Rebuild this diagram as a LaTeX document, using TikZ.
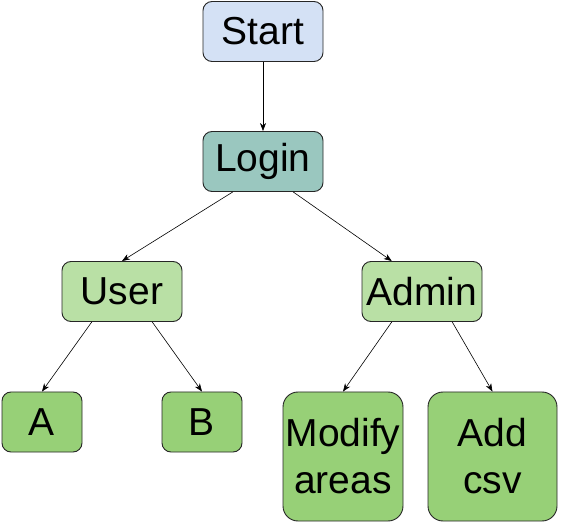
\documentclass[tikz,border=0pt]{standalone}
\usepackage{fontspec}
\setmainfont{Liberation Sans}
\usetikzlibrary{calc,arrows.meta}
\definecolor{cstart}{HTML}{D4E1F5}
\definecolor{clogin}{HTML}{9AC7BF}
\definecolor{cmid}{HTML}{B9E0A5}
\definecolor{cleaf}{HTML}{97D077}
\tikzset{
  box/.style={draw=black!85, line width=0.9pt, rounded corners=9pt, inner sep=0pt,
    minimum width=120pt, minimum height=60pt, align=center,
    font=\fontsize{39}{47}\selectfont},
  smallbox/.style={box, minimum width=80pt},
  tallbox/.style={box, minimum height=129pt, rounded corners=15pt},
  conn/.style={draw=black, line width=0.6pt, -{Stealth[length=8pt,width=6pt,inset=2.5pt]}}
}
\begin{document}
\begin{tikzpicture}[x=1pt,y=-1pt]
\useasboundingbox (0,0) rectangle (566,524);
\node[box, fill=cstart] (start) at (263,31.5) {Start};
\node[box, fill=clogin] (login) at (263,161.5) {Login};
\node[box, fill=cmid] (user) at (122,291.5) {User};
\node[box, fill=cmid] (admin) at (422,291.5) {Admin};
\node[smallbox, fill=cleaf] (a) at (42,422) {A};
\node[smallbox, fill=cleaf] (b) at (202,422) {B};
\node[tallbox, fill=cleaf] (mod) at (343,456.5) {Modify\\areas};
\node[tallbox, fill=cleaf, minimum width=129pt] (add) at (492.5,456.5) {Add\\csv};
\draw[conn] (start.south) -- (login.north);
\draw[conn] ($(login.south west)!0.25!(login.south east)$) -- (user.north);
\draw[conn] ($(login.south west)!0.75!(login.south east)$) -- ($(admin.north west)!0.25!(admin.north east)$);
\draw[conn] ($(user.south west)!0.25!(user.south east)$) -- (a.north);
\draw[conn] ($(user.south west)!0.75!(user.south east)$) -- (b.north);
\draw[conn] ($(admin.south west)!0.25!(admin.south east)$) -- (mod.north);
\draw[conn] ($(admin.south west)!0.75!(admin.south east)$) -- (add.north);
\end{tikzpicture}
\end{document}
